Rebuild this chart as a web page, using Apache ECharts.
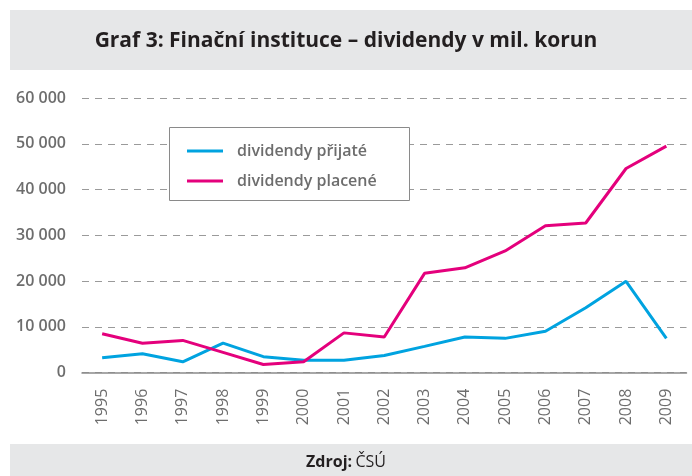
<!DOCTYPE html>
<html>
<head>
<meta charset="utf-8">
<script src="https://cdn.jsdelivr.net/npm/echarts@6/dist/echarts.min.js"></script>
<style>
  html, body { margin: 0; padding: 0; background: #fff; }
  #chart { width: 692px; height: 476px; }
</style>
</head>
<body>
<div id="chart"></div>
<script>
// years on the x axis
const years = ['1995', '1996', '1997', '1998', '1999', '2000', '2001', '2002',
  '2003', '2004', '2005', '2006', '2007', '2008', '2009'];
// dividends received / paid, mil. CZK
const prijate = [3250, 4150, 2380, 6450, 3500, 2700, 2700, 3750, 5750, 7800, 7500, 9050, 14200, 19950, 7500];
const placene = [8500, 6450, 7050, 4450, 1800, 2400, 8700, 7800, 21700, 22900, 26600, 32100, 32700, 44600, 49500];
const seriesNames = ['dividendy přijaté', 'dividendy placené'];

const font = '"Open Sans", sans-serif';
const chart = echarts.init(document.getElementById('chart'));

chart.setOption({
  animation: false,
  textStyle: { fontFamily: font },
  graphic: [
    // title band
    { type: 'rect', left: 10, top: 10, shape: { width: 682, height: 60 }, style: { fill: '#e6e7e8' }, z: 0 },
    { type: 'text', left: 'center', top: 31, style: {
        text: 'Graf 3: Finační instituce – dividendy v mil. korun',
        font: 'bold 21px "Open Sans", sans-serif', fill: '#231f20' } },
    // source band
    { type: 'rect', left: 10, top: 444, shape: { width: 682, height: 32 }, style: { fill: '#e6e7e8' }, z: 0 },
    { type: 'text', left: 'center', top: 454, style: {
        text: '{b|Zdroj:} {r|ČSÚ}',
        rich: {
          b: { fontFamily: font, fontWeight: 'bold', fontSize: 16, fill: '#231f20', color: '#231f20' },
          r: { fontFamily: font, fontSize: 16, fill: '#231f20', color: '#231f20' }
        } } },
    // legend box
    { type: 'rect', left: 169, top: 127, shape: { width: 240, height: 73 },
      style: { fill: '#fff', stroke: '#8a8a8a', lineWidth: 1 }, z: 3 }
  ],
  legend: {
    left: 182, top: 138, orient: 'vertical',
    icon: 'rect',
    itemWidth: 36, itemHeight: 3, itemGap: 14,
    textStyle: { fontSize: 16, color: '#6d6d6d', fontWeight: 600, padding: [0, 0, 0, 9] },
    data: seriesNames, z: 5
  },
  grid: { left: 82, right: 5.5, top: 98, bottom: 103.3 },
  xAxis: {
    type: 'category',
    data: years,
    boundaryGap: true,
    axisLine: { lineStyle: { color: '#8a8a8a', width: 1.5 } },
    axisTick: { show: false },
    axisLabel: { rotate: 90, margin: 16, fontSize: 16, color: '#6d6d6d', fontWeight: 500 }
  },
  yAxis: {
    type: 'value',
    min: 0, max: 60000, interval: 10000,
    axisLine: { show: false },
    axisTick: { show: false },
    axisLabel: {
      margin: 16, fontSize: 16, color: '#6d6d6d', fontWeight: 600,
      formatter: v => v === 0 ? '0' : (v / 1000) + ' 000'
    },
    splitLine: { lineStyle: { color: '#9a9a9a', type: [7, 6], width: 1.2 } }
  },
  series: [
    { name: seriesNames[0], type: 'line', data: prijate, symbol: 'none',
      lineStyle: { color: '#00a3e0', width: 3 }, itemStyle: { color: '#00a3e0' } },
    { name: seriesNames[1], type: 'line', data: placene, symbol: 'none',
      lineStyle: { color: '#e4007c', width: 3 }, itemStyle: { color: '#e4007c' } }
  ]
});
</script>
</body>
</html>
